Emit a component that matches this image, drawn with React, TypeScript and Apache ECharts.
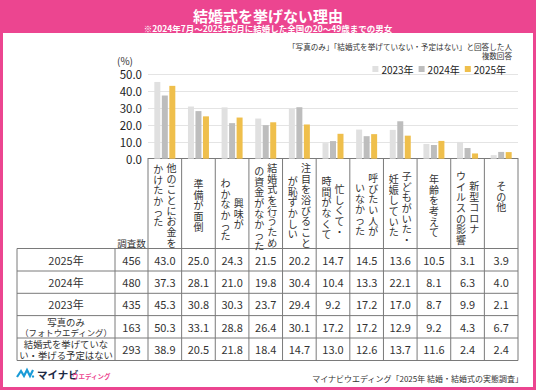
import React, { useEffect, useRef } from "react";
import * as echarts from "echarts";

// ---- data ----
const categoryLines: string[][] = [
  ["他のことにお金を", "かけたかった"],
  ["準備が面倒"],
  ["興味が", "わかなかった"],
  ["結婚式を行うため", "の資金がなかった"],
  ["注目を浴びること", "が恥ずかしい"],
  ["忙しくて・", "時間がなくて"],
  ["呼びたい人が", "いなかった"],
  ["子どもがいた・", "妊娠していた"],
  ["年齢を考えて"],
  ["新型コロナ", "ウイルスの影響"],
  ["その他"],
];
const categories = categoryLines.map((l) => l.join(""));
const seriesNames = ["2023年", "2024年", "2025年"];
const values2023 = [45.3, 30.8, 30.3, 23.7, 29.4, 9.2, 17.2, 17.0, 8.7, 9.9, 2.1];
const values2024 = [37.3, 28.1, 21.0, 19.8, 30.4, 10.4, 13.3, 22.1, 8.1, 6.3, 4.0];
const values2025 = [43.0, 25.0, 24.3, 21.5, 20.2, 14.7, 14.5, 13.6, 10.5, 3.1, 3.9];
const valuesPhoto = [50.3, 33.1, 28.8, 26.4, 30.1, 17.2, 17.2, 12.9, 9.2, 4.3, 6.7];
const valuesNone = [38.9, 20.5, 21.8, 18.4, 14.7, 13.0, 12.6, 13.7, 11.6, 2.4, 2.4];
const rowLabels: string[][] = [
  ["2025年"],
  ["2024年"],
  ["2023年"],
  ["写真のみ", "（フォトウエディング）"],
  ["結婚式を挙げていな", "い・挙げる予定はない"],
];
const rowCounts = [456, 480, 435, 163, 293];
const rowValues = [values2025, values2024, values2023, valuesPhoto, valuesNone];

// ---- layout ----
const W = 536;
const H = 390;
const FONT = '"Noto Sans CJK JP", "Noto Sans", sans-serif';
const PINK = "#ec4590";
const GRID_L = 148;
const GRID_R = 518;
const GRID_T = 74;
const AXIS_Y = 158.7;
const COL_W = (GRID_R - GRID_L) / categories.length;
const ROW_Y = [248.5, 271, 293.3, 315.6, 338, 360.5];
const TABLE_L = 17;
const LABEL_R = 115;
const labelTops: number[][] = [
  [162, 163], [178], [197, 177], [162, 165], [162, 175],
  [183, 175], [172, 182], [170, 173], [173], [180, 170], [180],
];
const LINE_COLOR = "#7a7a7a";

function buildGraphics() {
  const els: any[] = [];
  els.push({ type: "rect", z: -10, silent: true, shape: { x: 3, y: 33, width: W - 6, height: H - 36 }, style: { fill: "#ffffff" } });
  els.push({ type: "text", x: W / 2, y: 15, style: { text: "結婚式を挙げない理由", font: `bold 15px ${FONT}`, fill: "#fff", textAlign: "center", textVerticalAlign: "middle" } });
  els.push({ type: "text", x: W / 2, y: 27.5, style: { text: "※2024年7月～2025年6月に結婚した全国の20～49歳までの男女", font: `bold 8.5px ${FONT}`, fill: "#fff", textAlign: "center", textVerticalAlign: "middle" } });
  els.push({ type: "text", x: 512, y: 46, style: { text: "「写真のみ」「結婚式を挙げていない・予定はない」と回答した人", font: `7.6px ${FONT}`, fill: "#333", textAlign: "right", textVerticalAlign: "middle" } });
  els.push({ type: "text", x: 512, y: 55, style: { text: "複数回答", font: `7.6px ${FONT}`, fill: "#333", textAlign: "right", textVerticalAlign: "middle" } });
  els.push({ type: "text", x: 125, y: 60, style: { text: "(%)", font: `10px ${FONT}`, fill: "#333", textAlign: "center", textVerticalAlign: "middle" } });

  // table lines
  for (const y of ROW_Y) {
    els.push({ type: "line", shape: { x1: TABLE_L, y1: y, x2: GRID_R, y2: y }, style: { stroke: LINE_COLOR, lineWidth: 1 } });
  }
  for (const x of [TABLE_L, LABEL_R]) {
    els.push({ type: "line", shape: { x1: x, y1: ROW_Y[0], x2: x, y2: ROW_Y[ROW_Y.length - 1] }, style: { stroke: LINE_COLOR, lineWidth: 1 } });
  }
  for (let i = 0; i <= categories.length; i++) {
    const x = GRID_L + i * COL_W;
    els.push({ type: "line", shape: { x1: x, y1: AXIS_Y, x2: x, y2: ROW_Y[ROW_Y.length - 1] }, style: { stroke: LINE_COLOR, lineWidth: 1 } });
  }

  // vertical category labels (one character per text so each glyph is real text)
  categoryLines.forEach((lines, i) => {
    const cx = GRID_L + (i + 0.5) * COL_W;
    lines.forEach((ln, j) => {
      const x = lines.length === 1 ? cx : cx + (j === 0 ? 6.6 : -6.6);
      Array.from(ln).forEach((ch, k) => {
        els.push({
          type: "text", x, y: labelTops[i][j] + k * 10.7 + 5.3,
          style: { text: ch, font: `10px ${FONT}`, fill: "#333", textAlign: "center", textVerticalAlign: "middle" },
        });
      });
    });
  });
  els.push({ type: "text", x: (LABEL_R + GRID_L) / 2, y: 243, style: { text: "調査数", font: `9.5px ${FONT}`, fill: "#333", textAlign: "center", textVerticalAlign: "middle" } });

  // rows
  rowLabels.forEach((lab, r) => {
    const cy = (ROW_Y[r] + ROW_Y[r + 1]) / 2;
    if (lab.length === 1) {
      els.push({ type: "text", x: (TABLE_L + LABEL_R) / 2, y: cy, style: { text: lab[0], font: `11px ${FONT}`, fill: "#333", textAlign: "center", textVerticalAlign: "middle" } });
    } else {
      lab.forEach((t, k) => {
        els.push({ type: "text", x: (TABLE_L + LABEL_R) / 2, y: cy + (k === 0 ? -5 : 5.5), style: { text: t, font: `${k === 1 && r === 3 ? 8.4 : 9.4}px ${FONT}`, fill: "#333", textAlign: "center", textVerticalAlign: "middle" } });
      });
    }
    els.push({ type: "text", x: (LABEL_R + GRID_L) / 2, y: cy, style: { text: String(rowCounts[r]), font: `11px ${FONT}`, fill: "#333", textAlign: "center", textVerticalAlign: "middle" } });
    rowValues[r].forEach((v, i) => {
      const cx = GRID_L + (i + 0.5) * COL_W;
      els.push({ type: "text", x: cx, y: cy, style: { text: v.toFixed(1), font: `11px ${FONT}`, fill: "#333", textAlign: "center", textVerticalAlign: "middle" } });
    });
  });

  // footer logo
  els.push({ type: "polyline", shape: { points: [[17, 377], [21, 371], [24, 376], [27, 370], [30, 376], [33, 370]] }, style: { stroke: "#1a9bd7", lineWidth: 2.2, fill: null } });
  els.push({ type: "circle", shape: { cx: 33, cy: 376.5, r: 1.2 }, style: { fill: "#1a9bd7" } });
  els.push({ type: "text", x: 37, y: 374, style: { text: "マイナビ", font: `bold 10.5px ${FONT}`, fill: "#1d2a44", textAlign: "left", textVerticalAlign: "middle" } });
  els.push({ type: "text", x: 72, y: 375.5, style: { text: "ウエディング", font: `bold 6.5px ${FONT}`, fill: PINK, textAlign: "left", textVerticalAlign: "middle" } });
  els.push({ type: "text", x: 523, y: 378, style: { text: "マイナビウエディング「2025年 結婚・結婚式の実態調査」", font: `8px ${FONT}`, fill: "#333", textAlign: "right", textVerticalAlign: "middle" } });
  return els;
}

export default function App() {
  const ref = useRef<HTMLDivElement>(null);
  useEffect(() => {
    if (!ref.current) return;
    const chart = echarts.init(ref.current, undefined, { renderer: "svg" });
    const colors = ["#e0e0e0", "#bdbdbd", "#efbf4c"];
    const seriesData = [values2023, values2024, values2025];
    chart.setOption({
      animation: false,
      backgroundColor: PINK,
      textStyle: { fontFamily: FONT },
      color: colors,
      legend: {
        data: seriesNames,
        right: 25,
        top: 59,
        icon: "rect",
        itemWidth: 6,
        itemHeight: 6,
        itemGap: 5,
        textStyle: { fontSize: 10, color: "#222", fontFamily: FONT, padding: [0, 0, 0, -2] },
      },
      grid: { left: GRID_L, right: W - GRID_R, top: GRID_T, bottom: H - AXIS_Y },
      xAxis: {
        type: "category",
        data: categories,
        axisLabel: { show: false },
        axisTick: { show: false },
        axisLine: { show: true, lineStyle: { color: LINE_COLOR, width: 1 } },
      },
      yAxis: {
        type: "value",
        min: 0,
        max: 50,
        interval: 10,
        axisLabel: { formatter: (v: number) => v.toFixed(1), fontSize: 11.5, color: "#222", margin: 6, fontFamily: FONT },
        splitLine: { lineStyle: { color: "#e4e4e4", width: 1 } },
        axisLine: { show: false },
        axisTick: { show: false },
      },
      series: seriesNames.map((name, k) => ({
        name,
        type: "bar",
        data: seriesData[k],
        barWidth: 6,
        barGap: "25%",
        itemStyle: { color: colors[k] },
      })),
      graphic: buildGraphics(),
    });
    return () => chart.dispose();
  }, []);
  return <div ref={ref} style={{ position: "fixed", left: 0, top: 0, width: W, height: H }} />;
}
